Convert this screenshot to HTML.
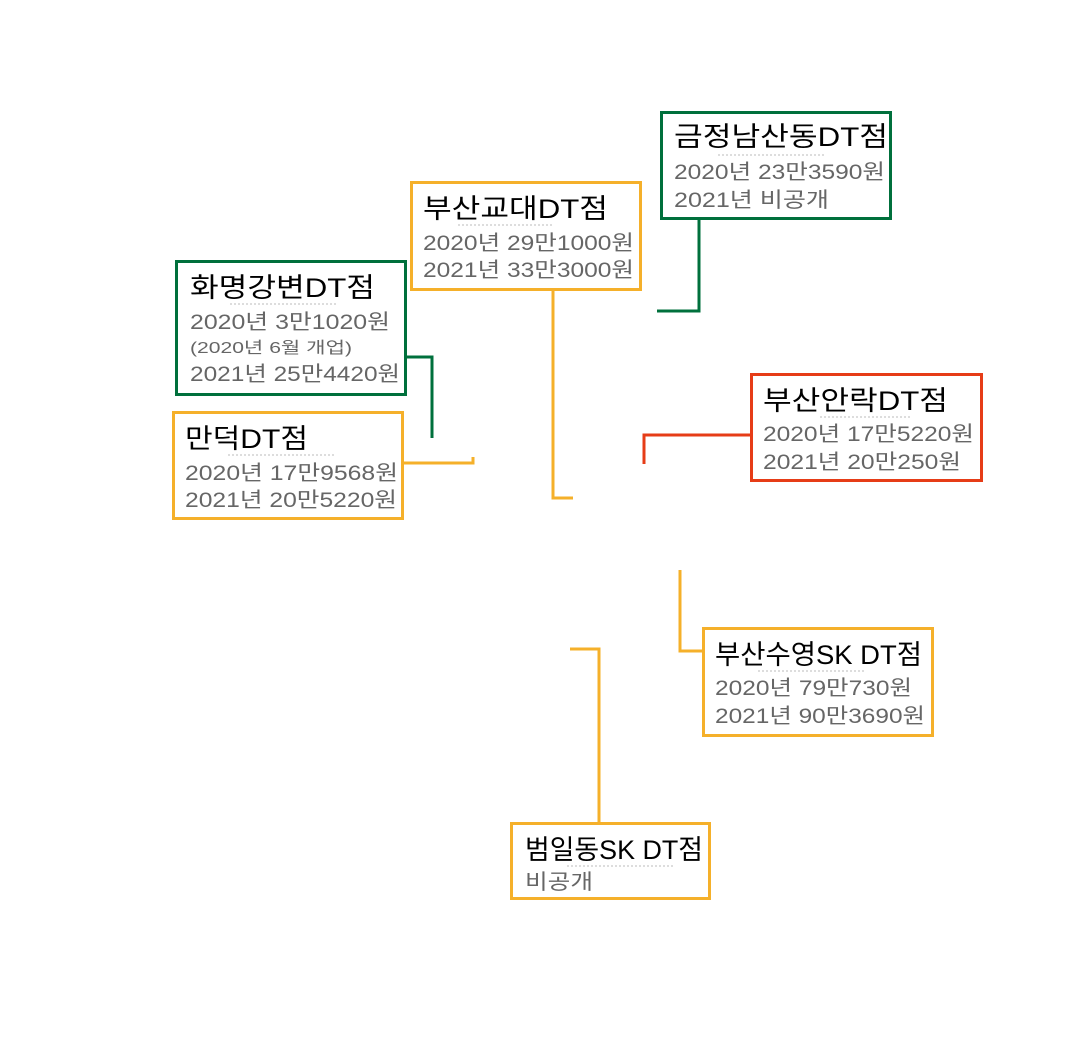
<!DOCTYPE html>
<html><head><meta charset="utf-8"><style>
html,body{margin:0;padding:0;background:#fff;}
svg{display:block;}
.t{font-family:"Liberation Sans","Noto Sans CJK KR",sans-serif;font-size:27px;fill:#000;}
.s{font-family:"Liberation Sans","Noto Sans CJK KR",sans-serif;font-size:21px;fill:#666;}
.xs{font-family:"Liberation Sans","Noto Sans CJK KR",sans-serif;font-size:16px;fill:#666;}
.d{stroke:#bbb;stroke-width:1;stroke-dasharray:2 2;}
</style></head><body>
<svg width="1076" height="1038" viewBox="0 0 1076 1038" xmlns="http://www.w3.org/2000/svg">
<g fill="none" stroke-width="3">
 <polyline points="699,219 699,311 657,311" stroke="#00703c"/>
 <polyline points="553,290 553,498 573,498" stroke="#f5b02a"/>
 <polyline points="405,357 432,357 432,438" stroke="#00703c"/>
 <polyline points="402,463 473,463 473,457" stroke="#f5b02a"/>
 <polyline points="751,435 644,435 644,464" stroke="#e63c17"/>
 <polyline points="703,651 680,651 680,570" stroke="#f5b02a"/>
 <polyline points="599,823 599,649 570,649" stroke="#f5b02a"/>
 <rect x="661.5" y="112.5" width="229" height="106" stroke="#00703c" fill="#fff"/>
 <rect x="411.5" y="182.5" width="229" height="107" stroke="#f5b02a" fill="#fff"/>
 <rect x="176.5" y="261.5" width="229" height="133" stroke="#00703c" fill="#fff"/>
 <rect x="173.5" y="412.5" width="229" height="106" stroke="#f5b02a" fill="#fff"/>
 <rect x="751.5" y="374.5" width="230" height="106" stroke="#e63c17" fill="#fff"/>
 <rect x="703.5" y="628.5" width="229" height="107" stroke="#f5b02a" fill="#fff"/>
 <rect x="511.5" y="823.5" width="198" height="75" stroke="#f5b02a" fill="#fff"/>
</g>
<line class="d" x1="718" y1="155" x2="825" y2="155"/>
<line class="d" x1="458" y1="225" x2="552" y2="225"/>
<line class="d" x1="230" y1="304" x2="338" y2="304"/>
<line class="d" x1="228" y1="455" x2="335" y2="455"/>
<line class="d" x1="820" y1="417" x2="912" y2="417"/>
<line class="d" x1="758" y1="671" x2="865" y2="671"/>
<line class="d" x1="567" y1="866" x2="673" y2="866"/>

<text class="t" x="674" y="146" textLength="214" lengthAdjust="spacingAndGlyphs">금정남산동DT점</text>
<text class="s" x="674" y="179" textLength="211" lengthAdjust="spacingAndGlyphs">2020년 23만3590원</text>
<text class="s" x="674" y="207" textLength="155" lengthAdjust="spacingAndGlyphs">2021년 비공개</text>

<text class="t" x="423" y="218" textLength="185" lengthAdjust="spacingAndGlyphs">부산교대DT점</text>
<text class="s" x="423" y="250" textLength="211" lengthAdjust="spacingAndGlyphs">2020년 29만1000원</text>
<text class="s" x="423" y="277" textLength="211" lengthAdjust="spacingAndGlyphs">2021년 33만3000원</text>

<text class="t" x="190" y="297" textLength="185" lengthAdjust="spacingAndGlyphs">화명강변DT점</text>
<text class="s" x="190" y="329" textLength="200" lengthAdjust="spacingAndGlyphs">2020년 3만1020원</text>
<text class="xs" x="190" y="353" textLength="162" lengthAdjust="spacingAndGlyphs">(2020년 6월 개업)</text>
<text class="s" x="190" y="381" textLength="210" lengthAdjust="spacingAndGlyphs">2021년 25만4420원</text>

<text class="t" x="185" y="448" textLength="123" lengthAdjust="spacingAndGlyphs">만덕DT점</text>
<text class="s" x="185" y="480" textLength="213" lengthAdjust="spacingAndGlyphs">2020년 17만9568원</text>
<text class="s" x="185" y="507" textLength="212" lengthAdjust="spacingAndGlyphs">2021년 20만5220원</text>

<text class="t" x="763" y="410" textLength="185" lengthAdjust="spacingAndGlyphs">부산안락DT점</text>
<text class="s" x="763" y="441" textLength="211" lengthAdjust="spacingAndGlyphs">2020년 17만5220원</text>
<text class="s" x="763" y="469" textLength="198" lengthAdjust="spacingAndGlyphs">2021년 20만250원</text>

<text class="t" x="715" y="664" textLength="207" lengthAdjust="spacingAndGlyphs">부산수영SK DT점</text>
<text class="s" x="715" y="695" textLength="197" lengthAdjust="spacingAndGlyphs">2020년 79만730원</text>
<text class="s" x="715" y="723" textLength="210" lengthAdjust="spacingAndGlyphs">2021년 90만3690원</text>

<text class="t" x="525" y="859" textLength="178" lengthAdjust="spacingAndGlyphs">범일동SK DT점</text>
<text class="s" x="525" y="889" textLength="68" lengthAdjust="spacingAndGlyphs">비공개</text>
</svg>
</body></html>
